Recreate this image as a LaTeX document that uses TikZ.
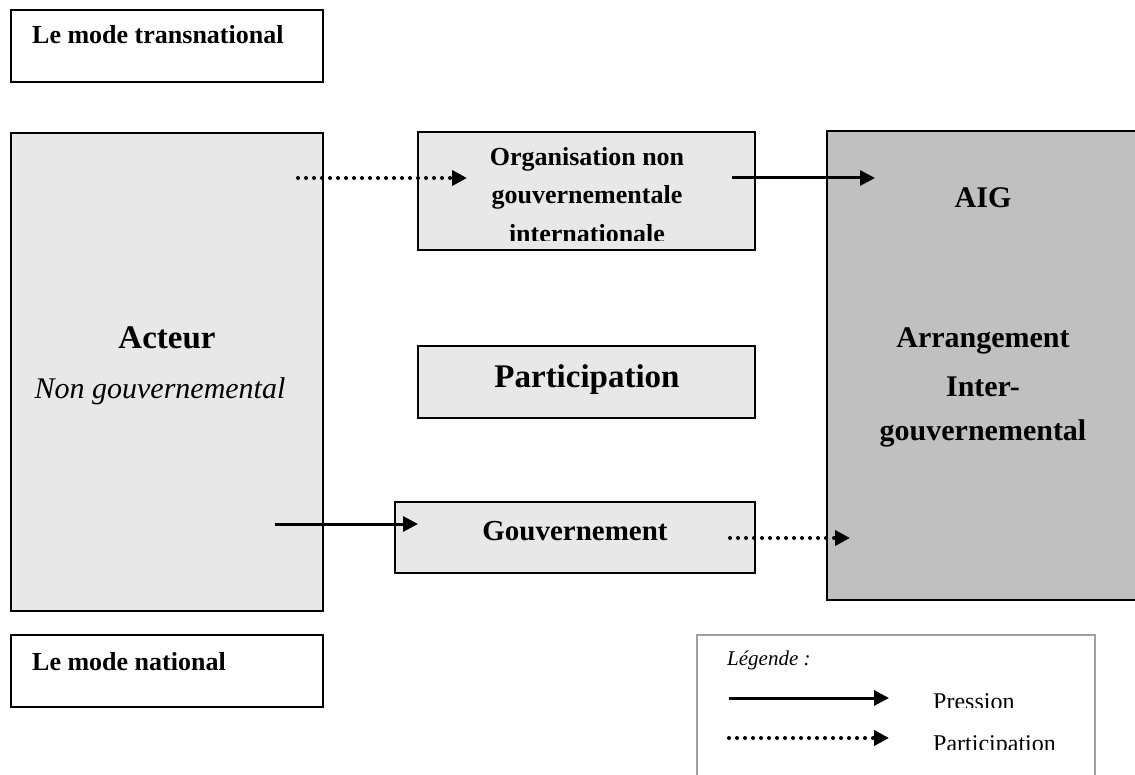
\documentclass[tikz,border=0pt]{standalone}
\usepackage{fontspec}
\setmainfont{Liberation Serif}
\usetikzlibrary{arrows.meta}
\definecolor{boxgrey}{HTML}{E8E8E8}
\definecolor{aiggrey}{HTML}{C0C0C0}
\definecolor{legendgrey}{HTML}{A0A0A0}
\newcommand\fsz[1]{\fontsize{#1}{#1}\selectfont}

\begin{document}
\begin{tikzpicture}[x=1pt,y=-1pt,
    box/.style={draw,line width=2pt,outer sep=0pt,inner sep=0pt,anchor=north west},
    greybox/.style={box,fill=boxgrey},
    pression/.style={line width=3pt,-{Triangle[length=15pt,width=15pt]}},
    particip/.style={line width=4pt,line cap=round,dash pattern=on 0pt off 8pt,-{Triangle[length=15pt,width=15pt]}},
    lbl/.style={anchor=base,inner sep=0pt,font=\fsz{#1}\bfseries}]
\useasboundingbox (0,0) rectangle (1135,775);
\clip (0,0) rectangle (1135,775);
% boxes
\node[box,minimum width=312pt,minimum height=72pt] (trans) at (11,10) {};
\node[greybox,minimum width=312pt,minimum height=478pt] (acteur) at (11,133) {};
\node[greybox,minimum width=337pt,minimum height=118pt] (ong) at (418,132) {};
\node[greybox,minimum width=337pt,minimum height=72pt] (part) at (418,346) {};
\node[greybox,minimum width=360pt,minimum height=71pt] (gouv) at (395,502) {};
\node[box,fill=aiggrey,minimum width=330pt,minimum height=469pt] (aig) at (827,131) {};
\node[box,minimum width=312pt,minimum height=72pt] (national) at (11,635) {};
\node[box,draw=legendgrey,minimum width=398pt,minimum height=160pt] (legende) at (697,635) {};
% arrows
\coordinate (a1) at (298,178); \coordinate (b1) at (467,178);
\coordinate (a2) at (732,178); \coordinate (b2) at (875,178);
\coordinate (a3) at (275,524); \coordinate (b3) at (418,524);
\coordinate (a4) at (730,538); \coordinate (b4) at (850,538);
\draw[particip] (a1) -- (b1);
\draw[pression] (a2) -- (b2);
\draw[pression] (a3) -- (b3);
\draw[particip] (a4) -- (b4);
% texts
\node[lbl=26,anchor=base west] (transtxt) at (32,44) {Le mode transnational};
\node[lbl=26,anchor=base west] (nattxt) at (32,670) {Le mode national};
\node[lbl=33] (acteurtxt) at (167,349) {Acteur};
\node[anchor=base,inner sep=0pt,font=\fsz{30}\itshape] (ngtxt) at (160,399) {Non gouvernemental};
\node[lbl=26] (ong1) at (587,166) {Organisation non};
\node[lbl=26] (ong2) at (587,204) {gouvernementale};
\begin{scope}
\clip (420,215) rectangle (753,241);
\node[lbl=26] (ong3) at (587,243) {internationale};
\end{scope}
\node[lbl=33] (parttxt) at (587,388) {Participation};
\node[lbl=29] (gouvtxt) at (575,540) {Gouvernement};
\node[lbl=30] (aigtxt) at (983,208) {AIG};
\node[lbl=30] (aig1) at (983,348) {Arrangement};
\node[lbl=30] (aig2) at (983,396) {Inter-};
\node[lbl=30] (aig3) at (983,440) {gouvernemental};
% legend
\node[anchor=base west,inner sep=0pt,font=\fsz{21}\itshape] (legtxt) at (727,665) {Légende :};
\coordinate (la1) at (729,698); \coordinate (lb1) at (889,698);
\coordinate (la2) at (729,738); \coordinate (lb2) at (889,738);
\draw[pression] (la1) -- (lb1);
\draw[particip] (la2) -- (lb2);
\begin{scope}
\clip (900,680) rectangle (1090,707);
\node[anchor=base west,inner sep=0pt,font=\fsz{24}] (legpress) at (933,709) {Pression};
\end{scope}
\begin{scope}
\clip (900,720) rectangle (1090,749);
\node[anchor=base west,inner sep=0pt,font=\fsz{24}] (legpart) at (933,751) {Participation};
\end{scope}
\end{tikzpicture}
\end{document}
